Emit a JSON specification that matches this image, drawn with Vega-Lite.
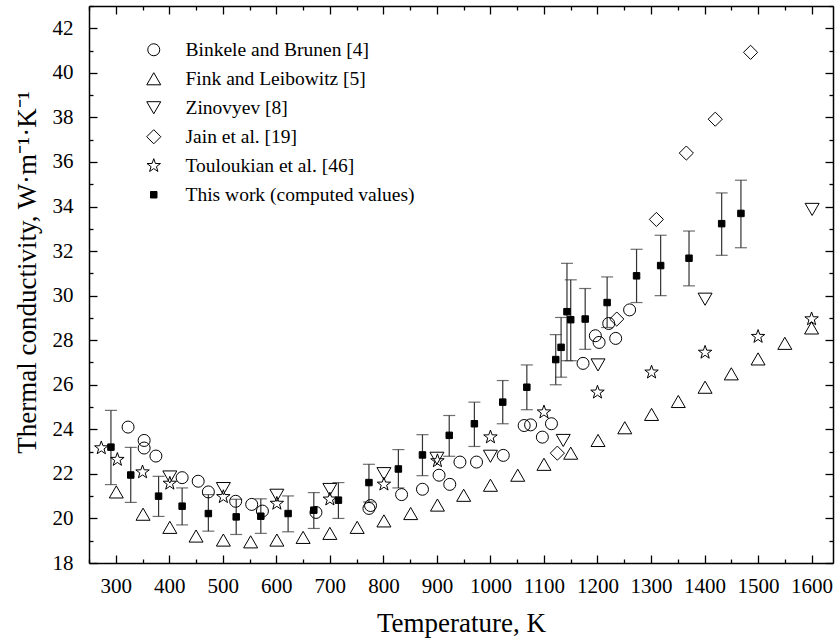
{
  "$schema": "https://vega.github.io/schema/vega-lite/v6.json",
  "width": 744,
  "height": 557,
  "autosize": {"type": "none"},
  "padding": {"left": 89, "top": 6, "right": 6, "bottom": 76},
  "background": "white",
  "config": {
    "view": {"stroke": null},
    "font": "Liberation Serif",
    "axis": {
      "grid": false,
      "domainColor": "black",
      "domainWidth": 1.5,
      "tickColor": "black",
      "tickWidth": 1.3,
      "labelFont": "Liberation Serif",
      "labelFontSize": 21,
      "labelColor": "black",
      "titleFont": "Liberation Serif",
      "titleFontSize": 27,
      "titleFontWeight": "normal",
      "titleColor": "black"
    },
    "legend": {"labelFont": "Liberation Serif"}
  },
  "data": {
    "values": [
      {"series": "Binkele and Brunen [4]", "T": 323, "k": 24.1},
      {"series": "Binkele and Brunen [4]", "T": 353, "k": 23.5},
      {"series": "Binkele and Brunen [4]", "T": 353, "k": 23.16},
      {"series": "Binkele and Brunen [4]", "T": 375, "k": 22.8},
      {"series": "Binkele and Brunen [4]", "T": 424, "k": 21.83},
      {"series": "Binkele and Brunen [4]", "T": 454, "k": 21.67},
      {"series": "Binkele and Brunen [4]", "T": 473, "k": 21.19},
      {"series": "Binkele and Brunen [4]", "T": 524, "k": 20.77},
      {"series": "Binkele and Brunen [4]", "T": 554, "k": 20.63},
      {"series": "Binkele and Brunen [4]", "T": 574, "k": 20.33},
      {"series": "Binkele and Brunen [4]", "T": 674, "k": 20.27},
      {"series": "Binkele and Brunen [4]", "T": 773, "k": 20.45},
      {"series": "Binkele and Brunen [4]", "T": 776, "k": 20.58},
      {"series": "Binkele and Brunen [4]", "T": 834, "k": 21.07},
      {"series": "Binkele and Brunen [4]", "T": 873, "k": 21.31},
      {"series": "Binkele and Brunen [4]", "T": 904, "k": 21.94},
      {"series": "Binkele and Brunen [4]", "T": 924, "k": 21.53},
      {"series": "Binkele and Brunen [4]", "T": 943, "k": 22.53},
      {"series": "Binkele and Brunen [4]", "T": 974, "k": 22.53},
      {"series": "Binkele and Brunen [4]", "T": 1024, "k": 22.83},
      {"series": "Binkele and Brunen [4]", "T": 1063, "k": 24.17},
      {"series": "Binkele and Brunen [4]", "T": 1075, "k": 24.2},
      {"series": "Binkele and Brunen [4]", "T": 1097, "k": 23.65},
      {"series": "Binkele and Brunen [4]", "T": 1114, "k": 24.25},
      {"series": "Binkele and Brunen [4]", "T": 1173, "k": 26.96},
      {"series": "Binkele and Brunen [4]", "T": 1196, "k": 28.2},
      {"series": "Binkele and Brunen [4]", "T": 1203, "k": 27.9},
      {"series": "Binkele and Brunen [4]", "T": 1221, "k": 28.75},
      {"series": "Binkele and Brunen [4]", "T": 1234, "k": 28.08},
      {"series": "Binkele and Brunen [4]", "T": 1260, "k": 29.36},
      {"series": "Fink and Leibowitz [5]", "T": 301, "k": 21.19},
      {"series": "Fink and Leibowitz [5]", "T": 351, "k": 20.19},
      {"series": "Fink and Leibowitz [5]", "T": 401, "k": 19.6},
      {"series": "Fink and Leibowitz [5]", "T": 450, "k": 19.21},
      {"series": "Fink and Leibowitz [5]", "T": 501, "k": 19.03},
      {"series": "Fink and Leibowitz [5]", "T": 552, "k": 18.95},
      {"series": "Fink and Leibowitz [5]", "T": 601, "k": 19.03},
      {"series": "Fink and Leibowitz [5]", "T": 650, "k": 19.15},
      {"series": "Fink and Leibowitz [5]", "T": 700, "k": 19.33},
      {"series": "Fink and Leibowitz [5]", "T": 751, "k": 19.6},
      {"series": "Fink and Leibowitz [5]", "T": 801, "k": 19.89},
      {"series": "Fink and Leibowitz [5]", "T": 851, "k": 20.22},
      {"series": "Fink and Leibowitz [5]", "T": 901, "k": 20.6},
      {"series": "Fink and Leibowitz [5]", "T": 950, "k": 21.04},
      {"series": "Fink and Leibowitz [5]", "T": 1000, "k": 21.49},
      {"series": "Fink and Leibowitz [5]", "T": 1051, "k": 21.94},
      {"series": "Fink and Leibowitz [5]", "T": 1100, "k": 22.43},
      {"series": "Fink and Leibowitz [5]", "T": 1150, "k": 22.93},
      {"series": "Fink and Leibowitz [5]", "T": 1201, "k": 23.5},
      {"series": "Fink and Leibowitz [5]", "T": 1251, "k": 24.07},
      {"series": "Fink and Leibowitz [5]", "T": 1301, "k": 24.67},
      {"series": "Fink and Leibowitz [5]", "T": 1351, "k": 25.25},
      {"series": "Fink and Leibowitz [5]", "T": 1401, "k": 25.89},
      {"series": "Fink and Leibowitz [5]", "T": 1450, "k": 26.49},
      {"series": "Fink and Leibowitz [5]", "T": 1500, "k": 27.16},
      {"series": "Fink and Leibowitz [5]", "T": 1550, "k": 27.86},
      {"series": "Fink and Leibowitz [5]", "T": 1600, "k": 28.55},
      {"series": "Zinovyev [8]", "T": 401, "k": 21.86},
      {"series": "Zinovyev [8]", "T": 501, "k": 21.34},
      {"series": "Zinovyev [8]", "T": 601, "k": 21.04},
      {"series": "Zinovyev [8]", "T": 700, "k": 21.3},
      {"series": "Zinovyev [8]", "T": 801, "k": 22.01},
      {"series": "Zinovyev [8]", "T": 900, "k": 22.7},
      {"series": "Zinovyev [8]", "T": 1000, "k": 22.79},
      {"series": "Zinovyev [8]", "T": 1136, "k": 23.5},
      {"series": "Zinovyev [8]", "T": 1201, "k": 26.89},
      {"series": "Zinovyev [8]", "T": 1401, "k": 29.84},
      {"series": "Zinovyev [8]", "T": 1601, "k": 33.87},
      {"series": "Jain et al. [19]", "T": 1125, "k": 22.93},
      {"series": "Jain et al. [19]", "T": 1236, "k": 28.95},
      {"series": "Jain et al. [19]", "T": 1310, "k": 33.42},
      {"series": "Jain et al. [19]", "T": 1366, "k": 36.4},
      {"series": "Jain et al. [19]", "T": 1420, "k": 37.92},
      {"series": "Jain et al. [19]", "T": 1486, "k": 40.92},
      {"series": "Touloukian et al. [46]", "T": 273, "k": 23.16},
      {"series": "Touloukian et al. [46]", "T": 303, "k": 22.64},
      {"series": "Touloukian et al. [46]", "T": 350, "k": 22.08},
      {"series": "Touloukian et al. [46]", "T": 401, "k": 21.57},
      {"series": "Touloukian et al. [46]", "T": 501, "k": 20.97},
      {"series": "Touloukian et al. [46]", "T": 601, "k": 20.67},
      {"series": "Touloukian et al. [46]", "T": 700, "k": 20.86},
      {"series": "Touloukian et al. [46]", "T": 801, "k": 21.53},
      {"series": "Touloukian et al. [46]", "T": 901, "k": 22.58},
      {"series": "Touloukian et al. [46]", "T": 1000, "k": 23.65},
      {"series": "Touloukian et al. [46]", "T": 1100, "k": 24.77},
      {"series": "Touloukian et al. [46]", "T": 1200, "k": 25.66},
      {"series": "Touloukian et al. [46]", "T": 1301, "k": 26.56},
      {"series": "Touloukian et al. [46]", "T": 1401, "k": 27.45},
      {"series": "Touloukian et al. [46]", "T": 1500, "k": 28.16},
      {"series": "Touloukian et al. [46]", "T": 1600, "k": 28.95},
      {"series": "This work (computed values)", "T": 291, "k": 23.2, "lo": 21.52, "hi": 24.85},
      {"series": "This work (computed values)", "T": 328, "k": 21.95, "lo": 20.72, "hi": 23.19},
      {"series": "This work (computed values)", "T": 380, "k": 21.0, "lo": 20.09, "hi": 21.89},
      {"series": "This work (computed values)", "T": 424, "k": 20.55, "lo": 19.71, "hi": 21.37},
      {"series": "This work (computed values)", "T": 473, "k": 20.22, "lo": 19.43, "hi": 21.07},
      {"series": "This work (computed values)", "T": 525, "k": 20.07, "lo": 19.28, "hi": 20.86},
      {"series": "This work (computed values)", "T": 571, "k": 20.1, "lo": 19.33, "hi": 20.88},
      {"series": "This work (computed values)", "T": 622, "k": 20.22, "lo": 19.4, "hi": 21.01},
      {"series": "This work (computed values)", "T": 670, "k": 20.37, "lo": 19.55, "hi": 21.16},
      {"series": "This work (computed values)", "T": 716, "k": 20.82, "lo": 20.0, "hi": 21.61},
      {"series": "This work (computed values)", "T": 773, "k": 21.61, "lo": 20.74, "hi": 22.43},
      {"series": "This work (computed values)", "T": 828, "k": 22.22, "lo": 21.37, "hi": 23.09},
      {"series": "This work (computed values)", "T": 873, "k": 22.85, "lo": 21.92, "hi": 23.76},
      {"series": "This work (computed values)", "T": 923, "k": 23.73, "lo": 22.79, "hi": 24.62},
      {"series": "This work (computed values)", "T": 970, "k": 24.25, "lo": 23.23, "hi": 25.22},
      {"series": "This work (computed values)", "T": 1023, "k": 25.22, "lo": 24.25, "hi": 26.19},
      {"series": "This work (computed values)", "T": 1068, "k": 25.89, "lo": 24.88, "hi": 26.89},
      {"series": "This work (computed values)", "T": 1122, "k": 27.13, "lo": 26.0, "hi": 28.25},
      {"series": "This work (computed values)", "T": 1132, "k": 27.68, "lo": 26.34, "hi": 29.02},
      {"series": "This work (computed values)", "T": 1143, "k": 29.28, "lo": 27.08, "hi": 31.45},
      {"series": "This work (computed values)", "T": 1150, "k": 28.92, "lo": 27.08, "hi": 30.71},
      {"series": "This work (computed values)", "T": 1177, "k": 28.95, "lo": 27.59, "hi": 30.32},
      {"series": "This work (computed values)", "T": 1218, "k": 29.69, "lo": 28.57, "hi": 30.84},
      {"series": "This work (computed values)", "T": 1273, "k": 30.89, "lo": 29.69, "hi": 32.08},
      {"series": "This work (computed values)", "T": 1318, "k": 31.35, "lo": 30.0, "hi": 32.71},
      {"series": "This work (computed values)", "T": 1371, "k": 31.68, "lo": 30.44, "hi": 32.9},
      {"series": "This work (computed values)", "T": 1432, "k": 33.23, "lo": 31.81, "hi": 34.61},
      {"series": "This work (computed values)", "T": 1468, "k": 33.69, "lo": 32.15, "hi": 35.18}
    ]
  },
  "layer": [
    {
      "transform": [{"filter": "datum.series === 'This work (computed values)'"}],
      "mark": {"type": "rule", "color": "#333333", "strokeWidth": 1.2},
      "encoding": {
        "x": {"field": "T", "type": "quantitative", "axis": null},
        "y": {"field": "hi", "type": "quantitative", "axis": null},
        "y2": {"field": "lo"}
      }
    },
    {
      "transform": [{"filter": "datum.series === 'This work (computed values)'"}],
      "mark": {"type": "tick", "orient": "horizontal", "size": 12, "thickness": 1.2, "color": "#333333"},
      "encoding": {
        "x": {"field": "T", "type": "quantitative", "axis": null},
        "y": {"field": "hi", "type": "quantitative", "axis": null}
      }
    },
    {
      "transform": [{"filter": "datum.series === 'This work (computed values)'"}],
      "mark": {"type": "tick", "orient": "horizontal", "size": 12, "thickness": 1.2, "color": "#333333"},
      "encoding": {
        "x": {"field": "T", "type": "quantitative", "axis": null},
        "y": {"field": "lo", "type": "quantitative", "axis": null}
      }
    },
    {
      "mark": {"type": "point", "stroke": "black", "strokeWidth": 1, "opacity": 1},
      "encoding": {
        "x": {
          "field": "T", "type": "quantitative",
          "scale": {"domain": [250, 1640], "nice": false, "zero": false},
          "axis": {
            "orient": "bottom",
            "values": [250,300,350,400,450,500,550,600,650,700,750,800,850,900,950,1000,1050,1100,1150,1200,1250,1300,1350,1400,1450,1500,1550,1600],
            "format": "d",
            "labelExpr": "datum.value % 100 === 0 ? datum.label : ''",
            "labelFont": "Liberation Serif",
            "labelFontSize": 21,
            "labelOverlap": false,
            "labelFlush": false,
            "tickSize": {"condition": {"test": "datum.value % 100 === 0", "value": -8}, "value": -4},
            "labelPadding": 20,
            "title": "Temperature, K",
            "titleFont": "Liberation Serif",
            "titlePadding": 10
          }
        },
        "y": {
          "field": "k", "type": "quantitative",
          "scale": {"domain": [18, 43], "nice": false, "zero": false},
          "axis": {
            "orient": "left",
            "values": [18,19,20,21,22,23,24,25,26,27,28,29,30,31,32,33,34,35,36,37,38,39,40,41,42,43],
            "format": "d",
            "labelExpr": "datum.value % 2 === 0 && datum.value < 43 ? datum.label : ''",
            "labelFont": "Liberation Serif",
            "labelFontSize": 21,
            "labelOverlap": false,
            "labelFlush": false,
            "tickSize": {"condition": {"test": "datum.value % 2 === 0", "value": -8}, "value": -4},
            "labelPadding": 24,
            "title": "Thermal conductivity, W·m⁻¹·K⁻¹",
            "titleFont": "Liberation Serif",
            "titlePadding": 11,
            "titleY": 266
          }
        },
        "shape": {
          "field": "series", "type": "nominal",
          "scale": {
            "domain": ["Binkele and Brunen [4]", "Fink and Leibowitz [5]", "Zinovyev [8]", "Jain et al. [19]", "Touloukian et al. [46]", "This work (computed values)"],
            "range": ["circle", "triangle-up", "triangle-down", "diamond", "M0,-1L0.235,-0.324L0.951,-0.309L0.38,0.124L0.588,0.809L0,0.4L-0.588,0.809L-0.38,0.124L-0.951,-0.309L-0.235,-0.324Z", "square"]
          },
          "legend": {
            "title": null,
            "orient": "none",
            "legendX": 55,
            "legendY": 34,
            "labelFont": "Liberation Serif",
            "labelFontSize": 19.5,
            "labelColor": "black",
            "labelLimit": 0,
            "rowPadding": 8,
            "labelOffset": 22,
            "symbolStrokeColor": "black",
            "symbolStrokeWidth": 1
          }
        },
        "fill": {
          "field": "series", "type": "nominal",
          "scale": {
            "domain": ["Binkele and Brunen [4]", "Fink and Leibowitz [5]", "Zinovyev [8]", "Jain et al. [19]", "Touloukian et al. [46]", "This work (computed values)"],
            "range": ["transparent", "transparent", "transparent", "transparent", "transparent", "black"]
          }
        },
        "size": {
          "field": "series", "type": "nominal",
          "scale": {
            "type": "ordinal",
            "domain": ["Binkele and Brunen [4]", "Fink and Leibowitz [5]", "Zinovyev [8]", "Jain et al. [19]", "Touloukian et al. [46]", "This work (computed values)"],
            "range": [144, 196, 196, 200, 200, 42]
          }
        }
      }
    },
    {
      "mark": {"type": "point", "opacity": 0},
      "encoding": {
        "x": {
          "field": "T", "type": "quantitative",
          "axis": {
            "orient": "top",
            "values": [250,300,350,400,450,500,550,600,650,700,750,800,850,900,950,1000,1050,1100,1150,1200,1250,1300,1350,1400,1450,1500,1550,1600],
            "labels": false,
            "title": null,
            "tickSize": {"condition": {"test": "datum.value % 100 === 0", "value": -8}, "value": -4}
          }
        },
        "y": {
          "field": "k", "type": "quantitative",
          "axis": {
            "orient": "right",
            "values": [18,19,20,21,22,23,24,25,26,27,28,29,30,31,32,33,34,35,36,37,38,39,40,41,42,43],
            "labels": false,
            "title": null,
            "tickSize": {"condition": {"test": "datum.value % 2 === 0", "value": -8}, "value": -4}
          }
        }
      }
    }
  ],
  "resolve": {"axis": {"x": "independent", "y": "independent"}}
}
